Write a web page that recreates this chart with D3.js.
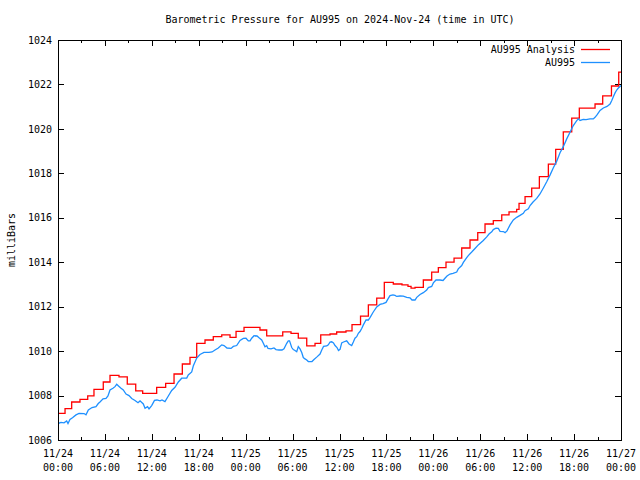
<!DOCTYPE html>
<html>
<head>
<meta charset="utf-8">
<script src="https://cdn.jsdelivr.net/npm/d3@7"></script>
<style>
  html, body { margin: 0; padding: 0; background: #fff; }
  svg { display: block; }
  text { font-family: "DejaVu Sans Mono", "Liberation Mono", monospace; font-size: 10px; fill: #000; }
</style>
</head>
<body>
<svg id="chart" width="640" height="480"></svg>
<script>
// ---- data (time = hours since 2024-11-24 00:00 UTC, pressure in mb) ----
const title = "Barometric Pressure for AU995 on 2024-Nov-24 (time in UTC)";
const yLabel = "milliBars";
const seriesNames = ["AU995 Analysis", "AU995"];

const xTickHours = [0, 6, 12, 18, 24, 30, 36, 42, 48, 54, 60, 66, 72];
const xTickDates = ["11/24","11/24","11/24","11/24","11/25","11/25","11/25","11/25","11/26","11/26","11/26","11/26","11/27"];
const xTickTimes = ["00:00","06:00","12:00","18:00","00:00","06:00","12:00","18:00","00:00","06:00","12:00","18:00","00:00"];
const yTicks = [1006, 1008, 1010, 1012, 1014, 1016, 1018, 1020, 1022, 1024];

// Analysis (step series)
const analysisHours = [0, 0.9, 1.75, 2.81, 3.8, 4.6, 5.79, 6.65, 7.8, 8.86, 9.94, 10.83, 12.62, 13.77, 14.84, 15.9, 16.88, 17.74, 18.8, 19.86, 20.94, 22.0, 22.77, 23.79, 25.83, 26.69, 28.74, 29.8, 30.73, 31.81, 32.87, 33.6, 34.79, 35.64, 36.83, 37.6, 38.69, 39.69, 40.76, 41.73, 42.88, 43.99, 44.76, 45.15, 45.66, 46.72, 47.79, 48.64, 49.62, 50.65, 51.63, 52.69, 53.68, 54.61, 55.67, 56.75, 57.68, 58.66, 58.96, 59.73, 60.58, 61.56, 62.71, 63.65, 64.62, 65.7, 66.67, 68.68, 69.66, 70.78, 71.71, 72];
const analysisValues = [1007.20, 1007.41, 1007.71, 1007.83, 1007.99, 1008.28, 1008.61, 1008.91, 1008.84, 1008.51, 1008.21, 1008.10, 1008.37, 1008.55, 1008.97, 1009.42, 1009.72, 1010.35, 1010.50, 1010.65, 1010.73, 1010.62, 1010.89, 1011.07, 1010.95, 1010.69, 1010.87, 1010.80, 1010.58, 1010.24, 1010.35, 1010.73, 1010.77, 1010.86, 1010.91, 1011.19, 1011.57, 1012.08, 1012.38, 1013.09, 1013.02, 1012.98, 1012.91, 1012.83, 1012.87, 1013.20, 1013.55, 1013.76, 1014.00, 1014.18, 1014.64, 1015.00, 1015.33, 1015.72, 1015.87, 1016.13, 1016.27, 1016.38, 1016.65, 1016.95, 1017.33, 1017.85, 1018.41, 1019.08, 1019.87, 1020.48, 1020.93, 1021.12, 1021.49, 1021.93, 1022.55, 1022.55];

// Observations
const obsHours = [0.00, 0.38, 0.77, 1.11, 1.28, 1.53, 1.85, 2.30, 2.69, 3.33, 3.58, 3.88, 4.35, 4.86, 5.15, 5.37, 5.76, 6.14, 6.39, 6.65, 7.03, 7.29, 7.51, 7.74, 8.02, 8.35, 8.70, 9.08, 9.43, 9.85, 10.23, 10.49, 10.91, 11.13, 11.45, 11.64, 11.98, 12.34, 12.66, 13.05, 13.30, 13.68, 14.11, 14.54, 14.96, 15.39, 15.82, 16.46, 16.66, 17.10, 17.30, 17.74, 18.16, 18.67, 19.31, 19.70, 20.08, 20.50, 20.94, 21.23, 21.61, 22.13, 22.42, 22.85, 23.28, 23.70, 24.04, 24.34, 24.56, 24.77, 25.07, 25.45, 25.71, 26.05, 26.26, 26.47, 26.69, 26.86, 27.24, 27.62, 27.88, 28.26, 28.65, 28.90, 29.25, 29.45, 29.61, 29.89, 30.09, 30.31, 30.53, 30.73, 30.95, 31.17, 31.37, 31.59, 31.81, 32.01, 32.48, 32.74, 33.12, 33.51, 33.73, 33.96, 34.37, 34.57, 34.79, 35.00, 35.23, 35.43, 35.68, 35.87, 36.07, 36.28, 36.51, 36.92, 37.22, 37.56, 37.77, 37.98, 38.20, 38.41, 38.62, 38.84, 39.05, 39.39, 39.69, 39.90, 40.32, 40.76, 41.18, 41.57, 41.95, 42.24, 42.46, 42.84, 43.10, 43.32, 43.74, 44.16, 44.60, 45.02, 45.27, 45.66, 45.88, 46.30, 46.72, 47.15, 47.36, 47.79, 48.00, 48.34, 48.85, 49.24, 49.49, 49.75, 50.13, 50.52, 50.99, 51.19, 51.63, 51.84, 52.27, 52.47, 52.91, 53.33, 53.75, 54.39, 54.83, 55.12, 55.47, 55.67, 56.02, 56.31, 56.53, 56.95, 57.17, 57.42, 57.59, 57.81, 58.23, 58.66, 59.09, 59.51, 59.73, 60.15, 60.37, 60.75, 61.22, 61.64, 62.07, 62.50, 62.92, 63.35, 63.78, 64.20, 64.62, 65.06, 65.48, 65.90, 66.34, 66.54, 66.76, 67.18, 67.53, 68.04, 68.46, 68.68, 68.93, 69.32, 69.74, 70.21, 70.60, 70.82, 71.02, 71.24, 71.45, 71.66, 71.87, 72.00];
const obsValues = [1006.74, 1006.79, 1006.77, 1006.86, 1006.74, 1006.92, 1007.00, 1007.13, 1007.20, 1007.19, 1007.13, 1007.35, 1007.46, 1007.50, 1007.64, 1007.71, 1007.85, 1007.87, 1007.98, 1008.25, 1008.33, 1008.40, 1008.51, 1008.43, 1008.34, 1008.25, 1008.07, 1008.00, 1007.87, 1007.78, 1007.68, 1007.76, 1007.62, 1007.43, 1007.50, 1007.40, 1007.55, 1007.78, 1007.80, 1007.76, 1007.80, 1007.73, 1007.98, 1008.23, 1008.37, 1008.61, 1008.78, 1008.79, 1008.93, 1009.06, 1009.33, 1009.69, 1009.85, 1009.94, 1009.94, 1009.96, 1010.05, 1010.14, 1010.28, 1010.25, 1010.14, 1010.12, 1010.21, 1010.25, 1010.48, 1010.57, 1010.58, 1010.46, 1010.46, 1010.58, 1010.69, 1010.68, 1010.60, 1010.50, 1010.35, 1010.19, 1010.24, 1010.12, 1010.10, 1010.14, 1010.07, 1010.05, 1010.05, 1010.10, 1010.35, 1010.46, 1010.46, 1010.16, 1010.07, 1010.03, 1009.97, 1010.20, 1010.10, 1009.94, 1009.71, 1009.65, 1009.60, 1009.53, 1009.53, 1009.62, 1009.74, 1009.87, 1010.05, 1010.21, 1010.23, 1010.28, 1010.41, 1010.42, 1010.37, 1010.25, 1010.16, 1010.03, 1010.08, 1010.37, 1010.41, 1010.46, 1010.32, 1010.25, 1010.41, 1010.58, 1010.65, 1010.80, 1010.88, 1011.02, 1011.18, 1011.40, 1011.40, 1011.51, 1011.76, 1011.99, 1012.10, 1012.14, 1012.19, 1012.37, 1012.50, 1012.53, 1012.51, 1012.46, 1012.48, 1012.47, 1012.42, 1012.40, 1012.30, 1012.30, 1012.42, 1012.55, 1012.63, 1012.75, 1012.86, 1012.91, 1013.07, 1013.20, 1013.20, 1013.18, 1013.28, 1013.38, 1013.47, 1013.50, 1013.56, 1013.70, 1013.85, 1013.99, 1014.21, 1014.30, 1014.46, 1014.62, 1014.78, 1014.98, 1015.14, 1015.27, 1015.37, 1015.47, 1015.53, 1015.52, 1015.39, 1015.38, 1015.33, 1015.41, 1015.53, 1015.68, 1015.90, 1016.02, 1016.11, 1016.20, 1016.32, 1016.40, 1016.55, 1016.71, 1016.87, 1017.07, 1017.34, 1017.62, 1017.92, 1018.25, 1018.55, 1018.93, 1019.20, 1019.55, 1019.85, 1020.15, 1020.37, 1020.45, 1020.38, 1020.43, 1020.42, 1020.45, 1020.45, 1020.52, 1020.63, 1020.83, 1020.94, 1021.01, 1021.12, 1021.28, 1021.45, 1021.62, 1021.75, 1021.84, 1021.91, 1021.95];

const colors = ["#ff0000", "#1e90ff"];

// ---- layout ----
const W = 640, H = 480;
const m = { left: 58, right: 19, top: 40, bottom: 40 };
const svg = d3.select("#chart");

const x = d3.scaleLinear().domain([0, 72]).range([m.left, W - m.right]);
const y = d3.scaleLinear().domain([1006, 1024]).range([H - m.bottom, m.top]);

const minorX = d3.range(3, 72, 6);

// axes with inward ticks
function styleAxis(g) {
  g.select(".domain").remove();
  g.selectAll(".tick line").attr("stroke", "#000").attr("shape-rendering", "crispEdges");
}

svg.append("g").attr("transform", `translate(0,${y.range()[0]})`)
  .call(d3.axisBottom(x).tickValues(xTickHours).tickSize(-6).tickFormat(""))
  .call(styleAxis);
svg.append("g").attr("transform", `translate(0,${y.range()[0]})`)
  .call(d3.axisBottom(x).tickValues(minorX).tickSize(-3).tickFormat(""))
  .call(styleAxis);
svg.append("g").attr("transform", `translate(0,${m.top})`)
  .call(d3.axisTop(x).tickValues(xTickHours).tickSize(-6).tickFormat(""))
  .call(styleAxis);
svg.append("g").attr("transform", `translate(0,${m.top})`)
  .call(d3.axisTop(x).tickValues(minorX).tickSize(-3).tickFormat(""))
  .call(styleAxis);
svg.append("g").attr("transform", `translate(${m.left},0)`)
  .call(d3.axisLeft(y).tickValues(yTicks).tickSize(-6).tickPadding(6).tickFormat(d3.format("d")))
  .call(styleAxis)
  .call(g => g.selectAll("text").attr("font-family", null).attr("font-size", null).attr("fill", "#000"));
svg.append("g").attr("transform", `translate(${W - m.right},0)`)
  .call(d3.axisRight(y).tickValues(yTicks).tickSize(-6).tickFormat(""))
  .call(styleAxis);

// x tick labels (two lines)
const xl = svg.append("g");
xTickHours.forEach((h, i) => {
  const t = xl.append("text").attr("text-anchor", "middle").attr("x", x(h)).attr("y", 457);
  t.append("tspan").attr("x", x(h)).attr("dy", 0).text(xTickDates[i]);
  t.append("tspan").attr("x", x(h)).attr("dy", 14).text(xTickTimes[i]);
});

// series
svg.append("clipPath").attr("id", "plotclip").append("rect")
  .attr("x", m.left).attr("y", m.top).attr("width", W - m.left - m.right).attr("height", H - m.top - m.bottom);

const analysis = analysisHours.map((h, i) => [h, analysisValues[i]]);
const obs = obsHours.map((h, i) => [h, obsValues[i]]);

svg.append("path").datum(analysis)
  .attr("clip-path", "url(#plotclip)")
  .attr("fill", "none").attr("stroke", colors[0]).attr("stroke-width", 1.3)
  .attr("d", d3.line().x(d => x(d[0])).y(d => y(d[1])).curve(d3.curveStepAfter));

svg.append("path").datum(obs)
  .attr("clip-path", "url(#plotclip)")
  .attr("fill", "none").attr("stroke", colors[1]).attr("stroke-width", 1.3)
  .attr("d", d3.line().x(d => x(d[0])).y(d => y(d[1])));

// border
svg.append("rect").attr("x", m.left).attr("y", m.top)
  .attr("width", W - m.left - m.right).attr("height", H - m.top - m.bottom)
  .attr("fill", "none").attr("stroke", "#000").attr("stroke-width", 1).attr("shape-rendering", "crispEdges");

// title
svg.append("text").attr("x", 340).attr("y", 23).attr("text-anchor", "middle").text(title);

// y label
svg.append("text").attr("transform", `translate(15,${(m.top + H - m.bottom) / 2}) rotate(-90)`)
  .attr("text-anchor", "middle").text(yLabel);

// legend
const leg = svg.append("g");
seriesNames.forEach((name, i) => {
  const ly = 49.5 + i * 13;
  leg.append("text").attr("x", 575).attr("y", ly).attr("dy", "0.35em").attr("text-anchor", "end").text(name);
  leg.append("line").attr("x1", 581).attr("x2", 610).attr("y1", ly).attr("y2", ly)
    .attr("stroke", colors[i]).attr("stroke-width", 1.3);
});
</script>
</body>
</html>
